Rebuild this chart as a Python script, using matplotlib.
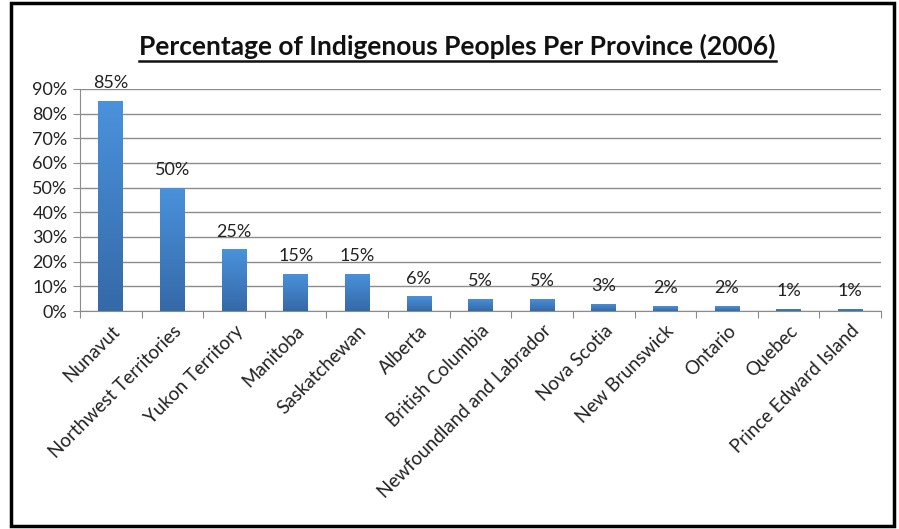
import matplotlib.pyplot as plt
import matplotlib.patches as mpatches
from matplotlib.colors import LinearSegmentedColormap
import numpy as np

plt.rcParams['font.family'] = ['Lato', 'DejaVu Sans']

# data
provinces = ["Nunavut", "Northwest Territories", "Yukon Territory", "Manitoba",
             "Saskatchewan", "Alberta", "British Columbia",
             "Newfoundland and Labrador", "Nova Scotia", "New Brunswick",
             "Ontario", "Quebec", "Prince Edward Island"]
percent = [85, 50, 25, 15, 15, 6, 5, 5, 3, 2, 2, 1, 1]
yticks = [0, 10, 20, 30, 40, 50, 60, 70, 80, 90]

fig = plt.figure(figsize=(8.99, 5.29), dpi=100)
ax = fig.add_axes([0.089, 0.412, 0.891, 0.42])

x = np.arange(len(provinces))
vals = np.array(percent) / 100.0
bars = ax.bar(x, vals, width=0.4, color="#4689d2", zorder=3)

# vertical gradient in each bar (lighter top, darker bottom)
cmap = LinearSegmentedColormap.from_list("bar", ["#3569a8", "#4a92dc"])
grad = np.linspace(0, 1, 256).reshape(-1, 1)
for b in bars:
    bx, by = b.get_x(), b.get_y()
    w, h = b.get_width(), b.get_height()
    im = ax.imshow(grad, cmap=cmap, aspect="auto", origin="lower",
                   extent=[bx, bx + w, by, by + h], zorder=4)
    im.set_clip_path(b)
    ax.annotate("%d%%" % round(b.get_height() * 100),
                (bx + w / 2, by + h), xytext=(0, 7), textcoords="offset points",
                ha="center", va="bottom", fontsize=13, color="#222222")

ax.set_xlim(-0.5, len(provinces) - 0.5)
ax.set_ylim(0, 0.9)
ax.set_yticks([t / 100.0 for t in yticks])
ax.set_yticklabels(["%d%%" % t for t in yticks], fontsize=13, color="#222222")
ax.yaxis.grid(True, color="#8c8c8c", lw=1, zorder=0)

# category ticks between bars, labels at bar centres
ax.set_xticks(np.arange(len(provinces) + 1) - 0.5)
ax.set_xticklabels([])
ax.set_xticks(x, minor=True)
ax.set_xticklabels(provinces, minor=True, rotation=45, ha="right",
                   rotation_mode="anchor", fontsize=13.5, color="#222222")
ax.tick_params(axis="x", which="minor", length=0, pad=8)
ax.tick_params(axis="x", which="major", length=5, color="#8c8c8c")
ax.tick_params(axis="y", length=5, color="#8c8c8c", pad=4)

for s in ["top", "right"]:
    ax.spines[s].set_visible(False)
for s in ["left", "bottom"]:
    ax.spines[s].set_color("#8c8c8c")

# title with underline
title = fig.text(0.509, 0.913, "Percentage of Indigenous Peoples Per Province (2006)",
                 ha="center", va="center", fontsize=19, fontweight="bold",
                 color="#111111")
fig.canvas.draw()
bb = title.get_window_extent().transformed(fig.transFigure.inverted())
fig.add_artist(plt.Line2D([bb.x0, bb.x1], [bb.y0 - 0.004, bb.y0 - 0.004],
                          color="#111111", lw=1.8, transform=fig.transFigure))

# outer black frame
fig.add_artist(mpatches.Rectangle((0.012, 0.006), 0.982, 0.988, fill=False,
                                  edgecolor="black", lw=2.5,
                                  transform=fig.transFigure))

fig.savefig("out.png", dpi=100)
